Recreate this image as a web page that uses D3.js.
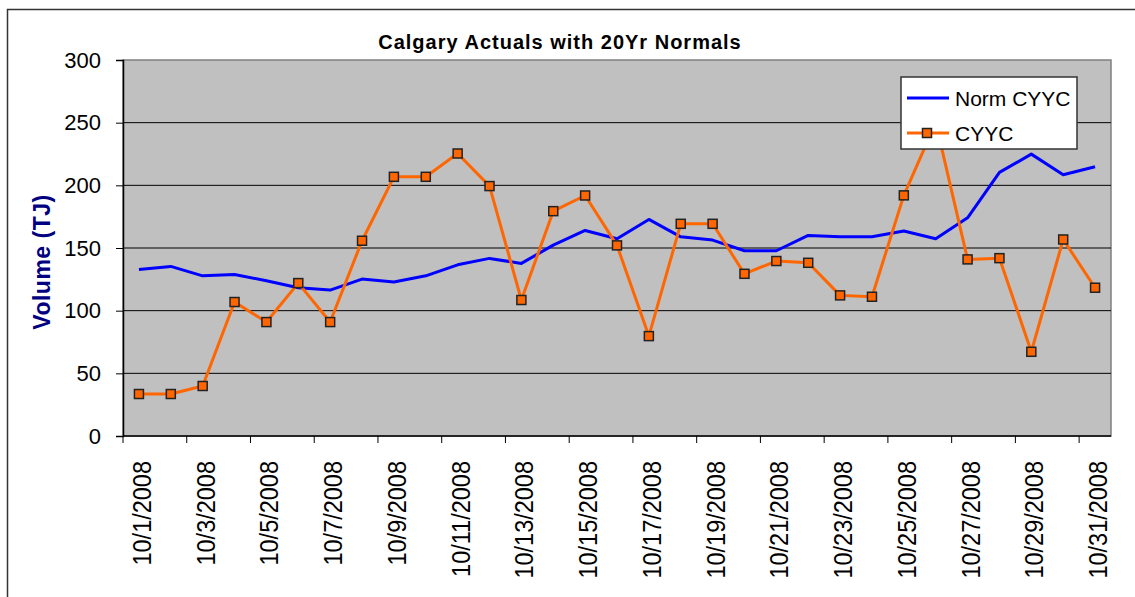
<!DOCTYPE html>
<html>
<head>
<meta charset="utf-8">
<script src="https://cdn.jsdelivr.net/npm/d3@7"></script>
<style>
  body { margin: 0; background: #fff; }
  svg { display: block; font-family: "Liberation Sans", Arial, sans-serif; }
</style>
</head>
<body>
<div id="chart"></div>
<script>
const width = 1135;
const height = 597;

// October 2008, one value per day
const days = d3.range(1, 32).map(d => "10/" + d + "/2008");
const normCYYC = [132.9, 135.3, 127.8, 128.9, 123.9, 118.3, 116.4, 125.2, 122.8, 127.8,
                  136.6, 141.7, 137.7, 152.3, 164.0, 157.4, 172.8, 158.9, 156.3, 147.8,
                  147.8, 160.0, 158.9, 158.9, 163.5, 157.4, 174.1, 210.3, 224.9, 208.4, 214.8];
const actualCYYC = [33.5, 33.5, 39.9, 106.9, 90.9, 122.0, 90.9, 155.8, 206.8, 206.8,
                    225.4, 199.4, 108.5, 179.4, 191.9, 152.1, 79.7, 169.3, 169.3, 129.4,
                    139.6, 138.2, 112.2, 111.1, 192.0, 250.0, 140.9, 141.9, 67.2, 156.8, 118.3];
const yTicks = [0, 50, 100, 150, 200, 250, 300];

const plot = { left: 123, right: 1111, top: 60, bottom: 436 };

const svg = d3.select("#chart")
    .append("svg")
    .attr("width", width)
    .attr("height", height);

// outer chart frame (right/bottom run off the picture)
svg.append("rect")
    .attr("x", 7.5).attr("y", 9.5)
    .attr("width", 1140).attr("height", 600)
    .attr("fill", "#fff")
    .attr("stroke", "#333").attr("stroke-width", 1.5);

let x = d3.scaleBand()
    .domain(days)
    .range([plot.left, plot.right])
    .padding(0);
let cx = d => x(d) + x.bandwidth() / 2;

let y = d3.scaleLinear()
    .domain([0, 300])
    .range([plot.bottom, plot.top]);

// plot area
svg.append("rect")
    .attr("x", plot.left).attr("y", plot.top)
    .attr("width", plot.right - plot.left).attr("height", plot.bottom - plot.top)
    .attr("fill", "#c0c0c0")
    .attr("stroke", "#808080").attr("stroke-width", 1.5);

// gridlines
svg.selectAll("line.grid")
    .data(yTicks.filter(t => t > 0 && t < 300))
    .enter()
    .append("line")
    .attr("class", "grid")
    .attr("x1", plot.left).attr("x2", plot.right)
    .attr("y1", d => y(d)).attr("y2", d => y(d))
    .attr("stroke", "#000").attr("stroke-width", 1);

// y axis
let yAxis = svg.append("g")
    .attr("transform", "translate(" + plot.left + ",0)")
    .call(d3.axisLeft(y).tickValues(yTicks).tickSize(7).tickPadding(15));
yAxis.select(".domain").attr("stroke", "#000").attr("stroke-width", 1.5);
yAxis.selectAll(".tick line").attr("stroke", "#000");
yAxis.selectAll("text")
    .attr("font-family", "Liberation Sans, Arial, sans-serif")
    .attr("font-size", 22)
    .attr("fill", "#000");

// x axis baseline + ticks every second day
svg.append("line")
    .attr("x1", plot.left).attr("x2", plot.right)
    .attr("y1", plot.bottom).attr("y2", plot.bottom)
    .attr("stroke", "#000").attr("stroke-width", 1.5);

svg.selectAll("line.xtick")
    .data(days.filter((d, i) => i % 2 == 0))
    .enter()
    .append("line")
    .attr("class", "xtick")
    .attr("x1", d => x(d)).attr("x2", d => x(d))
    .attr("y1", plot.bottom).attr("y2", plot.bottom + 7)
    .attr("stroke", "#000").attr("stroke-width", 1);

svg.selectAll("text.xlabel")
    .data(days.filter((d, i) => i % 2 == 0))
    .enter()
    .append("text")
    .attr("class", "xlabel")
    .attr("transform", d => "translate(" + (cx(d) + 3) + "," + 461 + ")rotate(-90)")
    .attr("text-anchor", "end")
    .attr("dy", "0.36em")
    .attr("font-size", 25)
    .attr("fill", "#000")
    .text(d => d)
    .each(function () {
        // the labels are a bit narrower than plain Arial
        let len = this.getComputedTextLength();
        d3.select(this).attr("textLength", len * 0.94).attr("lengthAdjust", "spacingAndGlyphs");
    });

// series
let line = d3.line()
    .x((d, i) => cx(days[i]))
    .y(d => y(d));

svg.append("path")
    .datum(normCYYC)
    .attr("d", line)
    .attr("fill", "none")
    .attr("stroke", "#0000ff")
    .attr("stroke-width", 3)
    .attr("stroke-linejoin", "round");

svg.append("path")
    .datum(actualCYYC)
    .attr("d", line)
    .attr("fill", "none")
    .attr("stroke", "#ff6600")
    .attr("stroke-width", 3)
    .attr("stroke-linejoin", "round");

svg.selectAll("rect.marker")
    .data(actualCYYC)
    .enter()
    .append("rect")
    .attr("class", "marker")
    .attr("x", (d, i) => cx(days[i]) - 4.5)
    .attr("y", d => y(d) - 4.5)
    .attr("width", 9).attr("height", 9)
    .attr("fill", "#ff6600")
    .attr("stroke", "#222").attr("stroke-width", 1.5);

// title
svg.append("text")
    .attr("x", 560).attr("y", 49)
    .attr("text-anchor", "middle")
    .attr("font-size", 20)
    .attr("font-weight", "bold")
    .attr("letter-spacing", 1)
    .attr("fill", "#000")
    .text("Calgary Actuals with 20Yr Normals");

// y axis title
svg.append("text")
    .attr("transform", "translate(50,262)rotate(-90)")
    .attr("text-anchor", "middle")
    .attr("font-size", 23)
    .attr("font-weight", "bold")
    .attr("letter-spacing", 0.5)
    .attr("fill", "#000080")
    .text("Volume (TJ)");

// legend
let legend = svg.append("g").attr("transform", "translate(901,77)");
legend.append("rect")
    .attr("width", 176).attr("height", 72)
    .attr("fill", "#fff")
    .attr("stroke", "#333").attr("stroke-width", 1.5);

let entries = [
    { name: "Norm CYYC", color: "#0000ff", marker: false },
    { name: "CYYC", color: "#ff6600", marker: true }
];
entries.forEach(function (e, i) {
    let ly = 21 + i * 35;
    legend.append("line")
        .attr("x1", 6).attr("x2", 48)
        .attr("y1", ly).attr("y2", ly)
        .attr("stroke", e.color).attr("stroke-width", 3);
    if (e.marker) {
        legend.append("rect")
            .attr("x", 21.5).attr("y", ly - 4.5)
            .attr("width", 9).attr("height", 9)
            .attr("fill", e.color)
            .attr("stroke", "#222").attr("stroke-width", 1.5);
    }
    legend.append("text")
        .attr("x", 54).attr("y", ly)
        .attr("dy", "0.36em")
        .attr("font-size", 21)
        .attr("fill", "#000")
        .text(e.name);
});
</script>
</body>
</html>
